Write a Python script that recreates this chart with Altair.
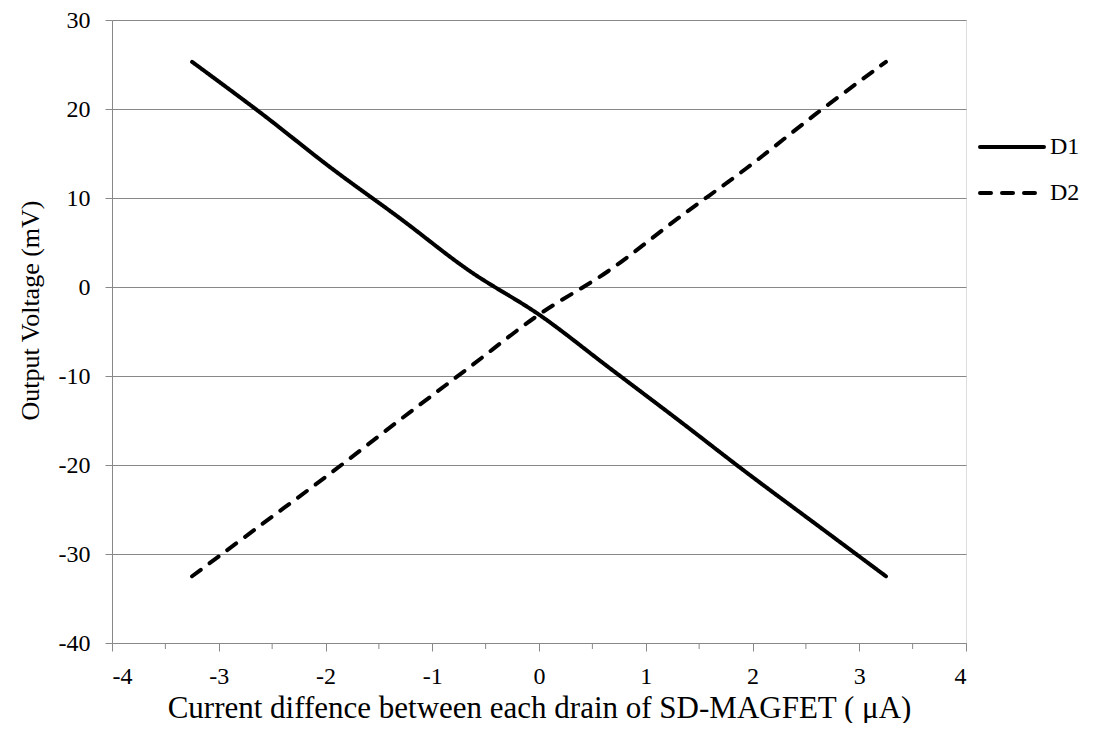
import altair as alt
import pandas as pd

# Data
x_vals = [-3.25, -2.6, -1.95, -1.3, -0.65, 0.0, 0.65, 1.3, 1.95, 2.6, 3.25]
d1_vals = [25.3, 19.5, 13.4, 7.7, 1.8, -3.1, -9.0, -14.9, -20.9, -26.7, -32.5]
d2_vals = [-32.5, -26.7, -20.9, -14.9, -9.0, -3.1, 1.8, 7.7, 13.4, 19.5, 25.3]
series = ["D1", "D2"]
x_ticks = [-4, -3, -2, -1, 0, 1, 2, 3, 4]
x_minor = [-3.5, -2.5, -1.5, -0.5, 0.5, 1.5, 2.5, 3.5]
y_ticks = [-40, -30, -20, -10, 0, 10, 20, 30]

df = pd.DataFrame({
    "x": x_vals * 2,
    "y": d1_vals + d2_vals,
    "series": [series[0]] * len(x_vals) + [series[1]] * len(x_vals),
})
minor_df = pd.DataFrame({"x": x_minor})

FONT = "Liberation Serif"
GREY = "#888888"
W, H = 854, 623
DASHES = [[1, 0], [11, 11]]

xscale = alt.Scale(domain=[-4, 4], nice=False, zero=False)
yscale = alt.Scale(domain=[-40, 30], nice=False, zero=False)

lines = alt.Chart(df).mark_line(strokeWidth=4, strokeCap="round", strokeJoin="round",
                                interpolate="catmull-rom", color="black").encode(
    x=alt.X("x:Q", scale=xscale,
            axis=alt.Axis(values=x_ticks, grid=False, tickSize=8,
                          labelExpr="'' + datum.value", labelPadding=13,
                          labelFontSize=24,
                          title="Current diffence between each drain of SD-MAGFET ( μA)",
                          titleFontSize=31, titlePadding=5)),
    y=alt.Y("y:Q", scale=yscale,
            axis=alt.Axis(values=y_ticks, grid=True, tickSize=7,
                          labelExpr="'' + datum.value", labelPadding=15,
                          labelFontSize=24,
                          title="Output Voltage (mV)", titleFontSize=26,
                          titleY=290, titlePadding=15)),
    strokeDash=alt.StrokeDash("series:N",
                              scale=alt.Scale(domain=series, range=DASHES),
                              legend=None),
    detail="series:N",
)

minor = alt.Chart(minor_df).mark_rule(color=GREY, strokeWidth=1).encode(
    x=alt.X("x:Q", scale=xscale),
    y=alt.value(H), y2=alt.value(H + 6),
)

# manual legend
leg_x0, leg_x1, leg_tx = 868, 932, 938
leg = []
for i, (name, dash) in enumerate(zip(series, DASHES)):
    ly = 127 + i * 46
    leg_df = pd.DataFrame({"name": [name]})
    leg.append(alt.Chart(leg_df).mark_rule(strokeWidth=4, strokeCap="round",
                                            strokeDash=dash, color="black").encode(
        x=alt.value(leg_x0), x2=alt.value(leg_x1), y=alt.value(ly)))
    leg.append(alt.Chart(leg_df).mark_text(font=FONT, fontSize=24, align="left",
                                            baseline="middle", color="black").encode(
        x=alt.value(leg_tx), y=alt.value(ly), text="name:N"))

chart = alt.layer(lines, minor, *leg).properties(
    width=W, height=H,
    autosize=alt.AutoSizeParams(type="none"),
    padding={"left": 104, "top": 12, "right": 120, "bottom": 80},
).configure_view(stroke=None).configure(background="white").configure_axis(
    labelFont=FONT, labelColor="black",
    titleFont=FONT, titleFontWeight="normal", titleColor="black",
    tickColor=GREY, domainColor=GREY, gridColor=GREY, gridWidth=1,
    gridOpacity=1, domainWidth=1, tickWidth=1,
)

chart.save("out.html", embed_options={"renderer": "svg", "actions": False})
